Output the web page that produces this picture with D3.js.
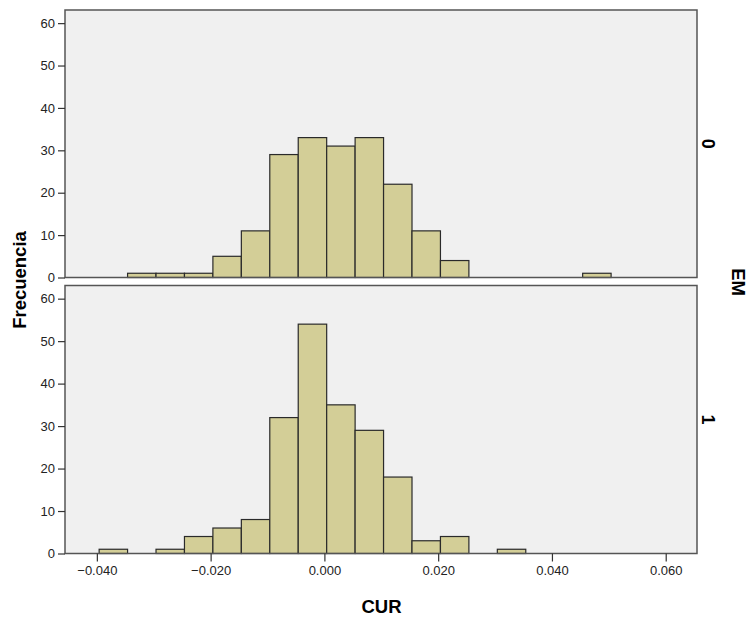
<!DOCTYPE html>
<html>
<head>
<meta charset="utf-8">
<script src="https://cdn.jsdelivr.net/npm/d3@7/dist/d3.min.js"></script>
<style>
  body { margin: 0; background: #fff; }
  text { font-family: "Liberation Sans", Arial, sans-serif; }
</style>
</head>
<body>
<div id="chart"></div>
<script>
// histogram of CUR split by EM (SPSS style panels)
let binLower = [-0.0396, -0.0346, -0.0296, -0.0246, -0.0196, -0.0146, -0.0096, -0.0046,
                0.0004, 0.0054, 0.0104, 0.0154, 0.0204, 0.0254, 0.0304, 0.0354, 0.0404, 0.0454];
let binWidth = 0.005;
let countsEM0 = [0, 1, 1, 1, 5, 11, 29, 33, 31, 33, 22, 11, 4, 0, 0, 0, 0, 1];
let countsEM1 = [1, 0, 1, 4, 6, 8, 32, 54, 35, 29, 18, 3, 4, 0, 1, 0, 0, 0];
let panelLabels = ["0", "1"];
let xTicks = [-0.04, -0.02, 0, 0.02, 0.04, 0.06];
let yTicks = [0, 10, 20, 30, 40, 50, 60];

let svgWidth = 748;
let svgHeight = 618;

let plot = { left: 65, right: 697 };
let panels = [
  { top: 10, bottom: 277.5, counts: countsEM0, label: panelLabels[0] },
  { top: 285.5, bottom: 553.5, counts: countsEM1, label: panelLabels[1] }
];

let svg = d3.select("#chart")
  .append("svg")
  .attr("width", svgWidth)
  .attr("height", svgHeight);

let x = d3.scaleLinear()
  .domain([-0.0456, 0.0655])
  .range([plot.left, plot.right]);

panels.forEach(function(p, i) {
  let y = d3.scaleLinear()
    .domain([0, 63.1])
    .range([p.bottom, p.top]);

  svg.append("rect")
    .attr("x", plot.left)
    .attr("y", p.top)
    .attr("width", plot.right - plot.left)
    .attr("height", p.bottom - p.top)
    .attr("fill", "#f0f0f0");

  let bins = binLower.map((b, k) => ({ x0: b, x1: b + binWidth, n: p.counts[k] }))
    .filter(d => d.n > 0);

  svg.append("g").selectAll("rect")
    .data(bins)
    .enter()
    .append("rect")
    .attr("x", d => x(d.x0))
    .attr("y", d => y(d.n))
    .attr("width", d => x(d.x1) - x(d.x0))
    .attr("height", d => y(0) - y(d.n))
    .attr("fill", "#d3ce97")
    .attr("stroke", "#2a2a2a")
    .attr("stroke-width", 1.2);

  // frame
  svg.append("rect")
    .attr("x", plot.left)
    .attr("y", p.top)
    .attr("width", plot.right - plot.left)
    .attr("height", p.bottom - p.top)
    .attr("fill", "none")
    .attr("stroke", "#555")
    .attr("stroke-width", 1.5);

  let leftAxis = d3.axisLeft(y).tickValues(yTicks).tickSize(7).tickPadding(3);
  let ga = svg.append("g")
    .attr("transform", `translate(${plot.left}, 0)`)
    .call(leftAxis);
  ga.select(".domain").remove();
  ga.selectAll("line").attr("stroke", "#333").attr("stroke-width", 1.2);
  ga.selectAll("text").attr("font-size", "13px").attr("fill", "#222")
    .style("font-family", "Liberation Sans, Arial, sans-serif");

  // panel label on the right
  let cy = (p.top + p.bottom) / 2;
  svg.append("text")
    .attr("transform", `translate(708, ${cy}) rotate(90)`)
    .attr("text-anchor", "middle")
    .attr("dy", "0.35em")
    .attr("font-size", "18px")
    .attr("font-weight", "bold")
    .text(p.label);
});

// x axis under bottom panel
let bottomAxis = d3.axisBottom(x)
  .tickValues(xTicks)
  .tickSize(8)
  .tickPadding(4)
  .tickFormat(d3.format(".3f"));
let gx = svg.append("g")
  .attr("transform", `translate(0, ${panels[1].bottom})`)
  .call(bottomAxis);
gx.select(".domain").remove();
gx.selectAll("line").attr("stroke", "#333").attr("stroke-width", 1.2);
gx.selectAll("text").attr("font-size", "13px").attr("fill", "#222")
  .style("font-family", "Liberation Sans, Arial, sans-serif");

// axis titles
svg.append("text")
  .attr("transform", "translate(20, 280) rotate(-90)")
  .attr("text-anchor", "middle")
  .attr("dy", "0.35em")
  .attr("font-size", "18.5px")
  .attr("font-weight", "bold")
  .text("Frecuencia");

svg.append("text")
  .attr("x", 381.5)
  .attr("y", 613)
  .attr("text-anchor", "middle")
  .attr("font-size", "18.5px")
  .attr("font-weight", "bold")
  .text("CUR");

svg.append("text")
  .attr("transform", "translate(738, 282) rotate(90)")
  .attr("text-anchor", "middle")
  .attr("dy", "0.35em")
  .attr("font-size", "18.5px")
  .attr("font-weight", "bold")
  .text("EM");
</script>
</body>
</html>
